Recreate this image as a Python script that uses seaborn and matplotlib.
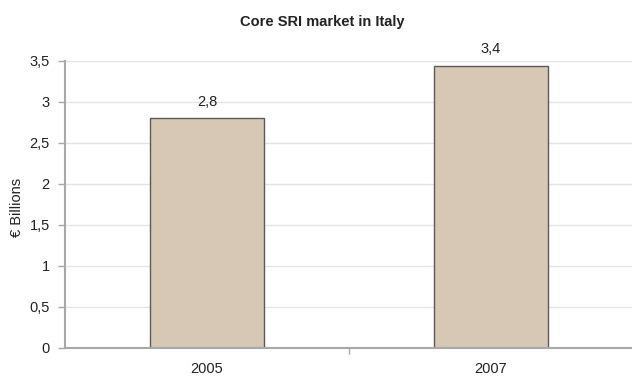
import matplotlib
matplotlib.use("Agg")
import matplotlib.pyplot as plt
import seaborn as sns
import pandas as pd
from matplotlib.ticker import FixedLocator, FuncFormatter

years = ["2005", "2007"]
values = [2.80, 3.44]
yticks = [0, 0.5, 1, 1.5, 2, 2.5, 3, 3.5]
title = "Core SRI market in Italy"
ylabel = "€ Billions"

sns.set_theme(style="white")
plt.rcParams["font.family"] = ["Liberation Sans", "DejaVu Sans"]

df = pd.DataFrame({"year": years, "value": values})

fig = plt.figure(figsize=(6.32, 3.76), dpi=100)
ax = fig.add_axes([0.1028, 0.0745, 0.8988, 0.7633])

sns.barplot(data=df, x="year", y="value", ax=ax, color="#d7c8b5",
            saturation=1, width=0.4, edgecolor="#5a5a5a", linewidth=1.0, zorder=3)

ax.set_xlim(-0.5, 1.5)
ax.set_ylim(0, 3.5)
ax.set_yticks(yticks)
ax.yaxis.set_major_formatter(FuncFormatter(lambda v, p: (f"{v:g}").replace(".", ",")))
ax.grid(axis="y", color="#e4e4e4", linewidth=1.0, zorder=0)
ax.grid(axis="x", visible=False)

for s in ["top", "right"]:
    ax.spines[s].set_visible(False)
for s in ["left", "bottom"]:
    ax.spines[s].set_color("#a8a8a8")
    ax.spines[s].set_linewidth(1.5)
    ax.spines[s].set_zorder(4)

ax.tick_params(axis="y", which="major", length=5, width=1, color="#a8a8a8",
               labelsize=10.5, labelcolor="#222222", pad=6, left=True)
ax.tick_params(axis="x", which="major", length=0, labelsize=10.5,
               labelcolor="#222222", pad=10)
ax.xaxis.set_minor_locator(FixedLocator([0.5]))
ax.tick_params(axis="x", which="minor", length=4, width=1, color="#a8a8a8",
               bottom=True, direction="out")

ax.set_xlabel("")
ax.set_ylabel(ylabel, fontsize=10.5, color="#222222")
ax.yaxis.set_label_coords(-0.072, 0.488)

for i, v in enumerate(values):
    ax.annotate(f"{v:.1f}".replace(".", ","), xy=(i, v), xytext=(0, 7),
                textcoords="offset points", ha="center", va="bottom",
                fontsize=10.5, color="#222222")

fig.text(0.51, 0.941, title, ha="center", va="center", fontsize=10.5,
         fontweight="bold", color="#222222")

fig.savefig("out.png", dpi=100)
